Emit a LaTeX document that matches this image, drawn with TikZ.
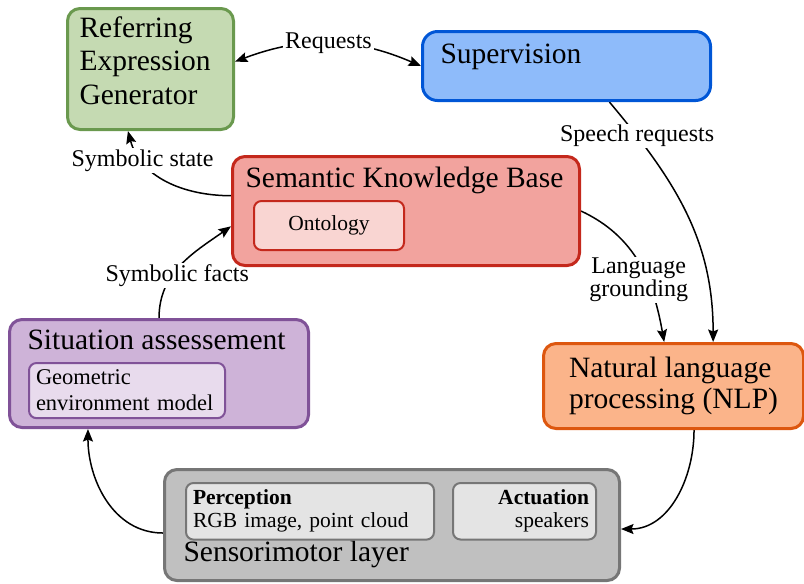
\documentclass[tikz,border=0pt]{standalone}
\usepackage{fontspec}
\setmainfont{Liberation Serif}
\usetikzlibrary{positioning,calc,arrows.meta}
\pgfdeclarelayer{bg}
\pgfsetlayers{bg,main}
\definecolor{regfill}{RGB}{197,218,178}
\definecolor{regline}{RGB}{106,153,78}
\definecolor{supfill}{RGB}{142,187,250}
\definecolor{supline}{RGB}{0,86,214}
\definecolor{skbfill}{RGB}{242,163,158}
\definecolor{skbline}{RGB}{196,40,28}
\definecolor{ontfill}{RGB}{249,213,210}
\definecolor{safill}{RGB}{206,179,216}
\definecolor{saline}{RGB}{128,82,152}
\definecolor{geofill}{RGB}{232,219,237}
\definecolor{nlpfill}{RGB}{251,180,138}
\definecolor{nlpline}{RGB}{221,87,15}
\definecolor{smfill}{RGB}{192,192,192}
\definecolor{smline}{RGB}{118,118,118}
\definecolor{sminner}{RGB}{228,228,228}
\tikzset{ARROW/.style={line width=0.6pt, -{Stealth[length=5pt, width=4pt, inset=0.8pt]}}}
\tikzset{BOX/.style={rectangle, rounded corners=5pt, line width=1.2pt, anchor=north west, inner sep=0pt}}
\tikzset{INNER/.style={rectangle, rounded corners=3pt, line width=0.8pt, anchor=north west, inner sep=2.8pt, font=\fontsize{8.6}{9.2}\selectfont}}
\tikzset{TITLE/.style={inner sep=0pt, anchor=base west, font=\fontsize{11.8}{13.4}\selectfont}}
\tikzset{LABEL/.style={fill=white, inner xsep=1pt, inner ysep=0.5pt, align=center, font=\fontsize{9.6}{9.2}\selectfont}}

\begin{document}
\begin{tikzpicture}[x=0.4pt, y=0.4pt]
    \useasboundingbox (0,0) rectangle (804,-583);

    \node[BOX, draw=regline, fill=regfill, minimum width=66.4pt, minimum height=48.4pt] (n_reg) at (66,-7) {};
    \node[TITLE, anchor=north west, align=left] (t_reg) at ($(n_reg.north west)+(13,-9)$) {Referring\\Expression\\Generator};

    \node[BOX, rounded corners=6pt, draw=supline, fill=supfill, minimum width=115.2pt, minimum height=27.6pt] (n_sup) at (421,-30) {};
    \node[TITLE] (t_sup) at ($(n_sup.north west)+(19,-33)$) {Supervision};

    \node[BOX, draw=skbline, fill=skbfill, minimum width=138.8pt, minimum height=43.6pt] (n_skb) at (231,-155) {};
    \node[TITLE] (t_skb) at ($(n_skb.north west)+(14,-32)$) {Semantic Knowledge Base};
    \node[INNER, draw=skbline, fill=ontfill, minimum width=60pt, minimum height=19.6pt] (n_ont) at ($(n_skb.north west)+(22,-45)$) {Ontology};

    \node[BOX, draw=saline, fill=safill, minimum width=119.6pt, minimum height=43.2pt] (n_sa) at (8,-318) {};
    \node[TITLE] (t_sa) at ($(n_sa.north west)+(19,-31)$) {Situation assessement};
    \node[INNER, draw=saline, fill=geofill, text width=72.8pt, align=left, minimum height=20.4pt, font=\fontsize{9}{10.4}\selectfont] (n_geo) at ($(n_sa.north west)+(20,-44)$) {Geometric\\environment model};

    \node[BOX, draw=nlpline, fill=nlpfill, minimum width=104pt, minimum height=34pt, align=left, font=\fontsize{11.8}{12.4}\selectfont] (n_nlp) at (542,-342) {Natural language\\processing (NLP)};

    \node[BOX, draw=smline, fill=smfill, minimum width=182pt, minimum height=44.4pt] (n_sm) at (163,-468) {};
    \node[TITLE] (t_sm) at ($(n_sm.south west)+(20,21)$) {Sensorimotor layer};
    \node[INNER, draw=smline, fill=sminner, text width=93.6pt, align=left, minimum height=19.2pt] (n_per) at ($(n_sm.north west)+(22,-14)$) {\textbf{Perception}\\RGB image, point cloud};
    \node[INNER, draw=smline, fill=sminner, text width=51.6pt, align=right, minimum height=19.2pt] (n_act) at ($(n_sm.north west)+(289,-14)$) {\textbf{Actuation}\\speakers};

    % connectors, behind the boxes
    \begin{pgfonlayer}{bg}
    \draw[ARROW, {Stealth[length=5pt, width=4pt, inset=0.8pt]}-{Stealth[length=5pt, width=4pt, inset=0.8pt]}] (n_reg.5) to[bend left=22] node[LABEL, midway]{Requests} (n_sup.west);
    \draw[ARROW] (n_skb.175) to[out=180, in=-75] node[LABEL, pos=0.75]{Symbolic state} (n_reg.-110);
    \draw[ARROW] (n_sa.north) to[out=90, in=215] node[LABEL, pos=0.38, xshift=2pt]{Symbolic facts} (n_skb.185);
    \draw[ARROW] (n_sup.-40) to[out=-50, in=90] node[LABEL, pos=0.15]{Speech requests} (n_nlp.48);
    \draw[ARROW] (n_skb.east) to[out=-25, in=100] node[LABEL, pos=0.6, xshift=-3pt, yshift=-1pt]{Language\\grounding} (n_nlp.102);
    \draw[ARROW] (n_nlp.-65) to[out=-90, in=0] (n_sm.-1);
    \draw[ARROW] (n_sm.182) to[out=180, in=-90] (n_sa.-142);
    \end{pgfonlayer}

\end{tikzpicture}
\end{document}
